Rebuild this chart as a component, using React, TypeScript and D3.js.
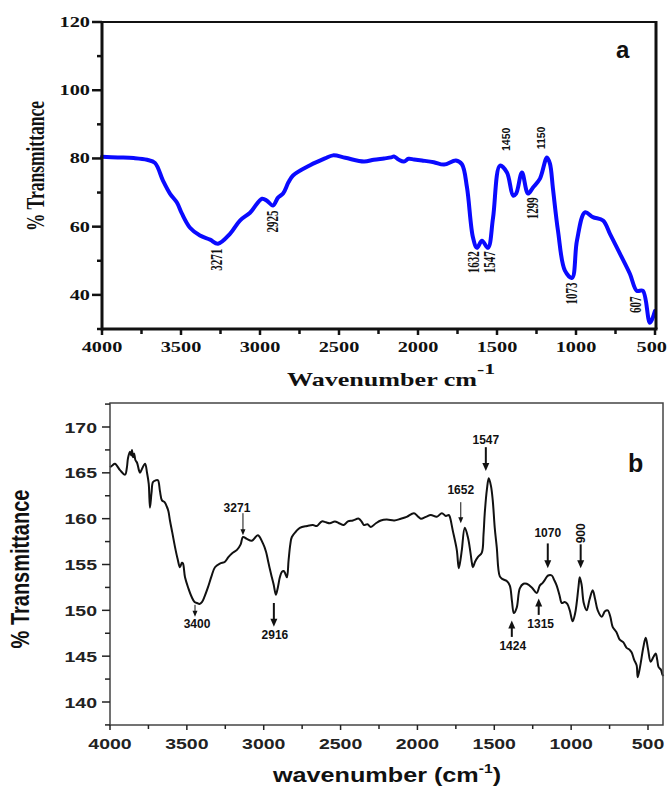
import React from 'react';
import * as d3 from 'd3';

// ---- panel a (blue spectrum) ----
const aWave = [4000, 3900, 3800, 3715, 3665, 3614, 3570, 3525, 3494, 3443, 3380, 3316, 3266, 3190, 3127, 3063, 2987, 2956, 2918, 2886, 2854, 2820, 2791, 2683, 2589, 2538, 2460, 2342, 2280, 2215, 2170, 2152, 2120, 2089, 2060, 2025, 1975, 1900, 1835, 1760, 1722, 1690, 1652, 1627, 1595, 1557, 1525, 1481, 1437, 1398, 1379, 1342, 1304, 1272, 1228, 1184, 1165, 1146, 1114, 1070, 1025, 994, 943, 893, 829, 785, 722, 659, 615, 577, 532, 500];
const aTrans = [80.5, 80.3, 80.1, 79.6, 78.7, 73.5, 69.7, 67.0, 63.8, 59.7, 57.4, 56.2, 55.0, 57.9, 61.8, 64.1, 68.2, 67.6, 66.2, 68.5, 69.7, 73.0, 75.0, 78.0, 80.0, 80.9, 80.2, 79.1, 79.6, 80.0, 80.3, 80.6, 79.6, 79.1, 79.9, 79.7, 79.4, 78.9, 78.2, 79.4, 78.3, 71.5, 56.8, 53.8, 55.9, 53.8, 62.6, 77.9, 75.9, 69.1, 69.7, 75.9, 69.7, 71.5, 74.1, 80.3, 78.5, 71.2, 58.8, 47.1, 45.0, 55.9, 64.2, 62.8, 61.8, 57.9, 52.1, 46.2, 41.2, 41.2, 31.8, 35.3];
const aTicksX = [4000, 3500, 3000, 2500, 2000, 1500, 1000, 500];
const aMinorX = [3750, 3250, 2750, 2250, 1750, 1250, 750];
const aTicksY = [40, 60, 80, 100, 120];
const aMinorY = [30, 50, 70, 90, 110];
const aPeakLabel = ['3271', '2925', '1632', '1547', '1450', '1150', '1299', '1073', '607'];
const aPeakWave = [3272, 2918, 1646, 1544, 1443, 1222, 1272, 1025, 620];
const aPeakTrans = [50.3, 61.5, 49.6, 49.6, 85.6, 86.0, 65.4, 40.4, 37.1];
const aPeakSans = [false, false, false, false, true, true, false, false, false];

// ---- panel b (black spectrum) ----
const bWave = [4000, 3985, 3968, 3935, 3902, 3890, 3883, 3870, 3862, 3857, 3850, 3843, 3835, 3824, 3812, 3805, 3790, 3772, 3759, 3748, 3740, 3730, 3720, 3700, 3688, 3675, 3662, 3645, 3630, 3620, 3610, 3595, 3577, 3560, 3545, 3532, 3525, 3512, 3490, 3467, 3450, 3434, 3418, 3402, 3385, 3363, 3340, 3317, 3285, 3252, 3230, 3207, 3174, 3150, 3135, 3110, 3077, 3038, 3005, 2985, 2973, 2960, 2947, 2935, 2921, 2908, 2895, 2882, 2870, 2862, 2849, 2838, 2827, 2817, 2790, 2765, 2719, 2680, 2654, 2622, 2595, 2570, 2537, 2510, 2479, 2452, 2420, 2381, 2360, 2348, 2325, 2303, 2270, 2238, 2200, 2150, 2108, 2070, 2023, 2000, 1978, 1945, 1913, 1874, 1841, 1815, 1796, 1789, 1770, 1744, 1731, 1720, 1711, 1692, 1672, 1655, 1646, 1639, 1625, 1607, 1581, 1570, 1562, 1548, 1536, 1522, 1510, 1497, 1484, 1464, 1445, 1419, 1399, 1385, 1373, 1354, 1334, 1310, 1289, 1256, 1224, 1204, 1185, 1172, 1150, 1126, 1110, 1094, 1075, 1061, 1042, 1025, 1009, 990, 975, 964, 952, 944, 932, 918, 899, 880, 860, 845, 827, 801, 780, 762, 745, 730, 705, 684, 660, 639, 620, 606, 590, 574, 567, 550, 530, 515, 500, 483, 465, 450, 440, 431, 415, 405, 400];
const bTrans = [165.6, 165.8, 166.0, 165.3, 164.8, 165.6, 166.6, 167.3, 166.9, 167.5, 166.7, 167.1, 166.4, 166.1, 165.3, 165.0, 165.5, 166.0, 165.0, 163.8, 161.2, 162.8, 164.0, 164.2, 164.2, 163.0, 162.0, 161.8, 161.3, 160.8, 159.8, 158.5, 156.9, 155.6, 154.7, 155.2, 155.1, 153.6, 152.4, 151.4, 150.9, 150.8, 150.7, 150.9, 151.5, 152.5, 153.7, 154.7, 155.1, 155.3, 155.8, 156.2, 156.6, 157.2, 158.0, 157.8, 157.6, 158.2, 157.3, 156.4, 155.5, 154.5, 153.6, 152.8, 151.7, 152.5, 153.6, 154.2, 154.3, 154.1, 153.6, 155.5, 157.2, 158.0, 158.6, 159.0, 159.2, 159.3, 159.2, 159.7, 159.6, 159.5, 159.7, 159.5, 159.3, 159.7, 159.8, 160.0, 159.6, 159.3, 159.4, 159.1, 159.5, 159.8, 159.9, 159.8, 160.0, 160.2, 160.6, 160.3, 160.0, 160.2, 160.4, 160.2, 160.6, 160.3, 160.4, 160.2, 158.7, 156.6, 154.6, 155.5, 156.6, 159.0, 158.0, 156.3, 155.2, 154.7, 155.3, 155.8, 156.3, 158.3, 160.6, 163.2, 164.4, 163.6, 162.0, 159.0, 156.9, 153.7, 153.4, 153.2, 152.7, 151.0, 149.7, 150.3, 152.4, 152.9, 152.9, 152.5, 151.9, 152.7, 153.0, 153.3, 153.8, 153.8, 153.3, 152.7, 151.6, 150.8, 150.9, 150.7, 150.0, 148.8, 149.6, 150.8, 152.6, 153.6, 152.8, 150.8, 150.0, 151.2, 152.2, 151.3, 150.0, 149.3, 149.9, 150.0, 149.3, 148.2, 147.6, 146.8, 146.5, 145.9, 145.7, 145.4, 144.6, 144.0, 142.7, 144.0, 146.0, 147.0, 145.8, 144.4, 144.9, 145.3, 144.6, 143.8, 143.5, 142.9, 143.0];
const bTicksX = [4000, 3500, 3000, 2500, 2000, 1500, 1000, 500];
const bMinorX = [3750, 3250, 2750, 2250, 1750, 1250, 750];
const bTicksY = [140, 145, 150, 155, 160, 165, 170];
const bMinorY = [137.5, 142.5, 147.5, 152.5, 157.5, 162.5, 167.5, 172.5];
const bNote = ['3271', '3400', '2916', '1652', '1547', '1070', '900', '1424', '1315'];
const bNoteWave = [3135, 3447, 2934, 1718, 1555, 1152, 938, 1386, 1211];
const bNoteTextWave = [3174, 3434, 2927, 1718, 1555, 1152, 938, 1380, 1198];
const bNoteTextT = [160.7, 148.1, 146.9, 162.7, 168.1, 158.0, 158.4, 145.7, 148.1];
const bArrowFrom = [160.6, 150.6, 150.8, 161.8, 167.8, 157.3, 157.2, 147.1, 149.5];
const bArrowTo = [158.2, 149.3, 148.2, 159.5, 165.2, 154.6, 154.6, 148.9, 151.3];
const bArrowBold = [false, false, true, false, true, true, true, true, true];

const serif = '"Liberation Serif", "Times New Roman", serif';
const sans = '"Liberation Sans", Arial, sans-serif';

function PanelA() {
  const left = 102, right = 656, top = 22, bottom = 329;
  const x = d3.scaleLinear().domain([4000, 500]).range([left, 655]);
  const y = d3.scaleLinear().domain([30, 120]).range([bottom, top]);
  const pts: [number, number][] = aWave.map((w, i) => [w, aTrans[i]]);
  const line = d3.line<[number, number]>()
    .x(d => x(d[0]))
    .y(d => y(d[1]))
    .curve(d3.curveCatmullRom.alpha(0.5));
  const sx = 1.45;

  return (
    <g>
      <path d={line(pts) || ''} fill="none" stroke="#0a0aff" strokeWidth={4} strokeLinejoin="round" strokeLinecap="round" />
      {/* frame */}
      <line x1={left} x2={right} y1={top} y2={top} stroke="#111" strokeWidth={2} />
      <line x1={left} x2={left} y1={top - 1} y2={bottom + 1.5} stroke="#111" strokeWidth={3} />
      <line x1={left} x2={right + 1.5} y1={bottom} y2={bottom} stroke="#111" strokeWidth={3} />
      <line x1={right} x2={right} y1={top - 1} y2={bottom} stroke="#111" strokeWidth={3} />
      {aTicksY.map(t => (
        <g key={'ay' + t}>
          <line x1={left - 10} x2={left} y1={y(t)} y2={y(t)} stroke="#111" strokeWidth={2.5} />
          <text transform={`translate(${left - 12},${y(t) + 5}) scale(${sx},1)`} textAnchor="end"
            fontFamily={serif} fontWeight="bold" fontSize={14} fill="#111">{t}</text>
        </g>
      ))}
      {aMinorY.map(t => (
        <line key={'amy' + t} x1={left - 5} x2={left} y1={y(t)} y2={y(t)} stroke="#111" strokeWidth={2.5} />
      ))}
      {aTicksX.map((t, i) => {
        const last = i === aTicksX.length - 1;
        return (
          <g key={'ax' + t}>
            <line x1={x(t)} x2={x(t)} y1={bottom} y2={bottom + 6} stroke="#111" strokeWidth={2.5} />
            <text transform={`translate(${last ? 667 : x(t)},${bottom + 23}) scale(${sx},1)`} textAnchor={last ? 'end' : 'middle'}
              fontFamily={serif} fontWeight="bold" fontSize={14} fill="#111">{t}</text>
          </g>
        );
      })}
      {aMinorX.map(t => (
        <line key={'amx' + t} x1={x(t)} x2={x(t)} y1={bottom} y2={bottom + 5} stroke="#111" strokeWidth={2.5} />
      ))}
      {aPeakLabel.map((lab, i) => (
        <text key={'ap' + i}
          transform={`translate(${x(aPeakWave[i])},${y(aPeakTrans[i])}) scale(${aPeakSans[i] ? 1 : sx},1) rotate(-90)`}
          textAnchor="middle" dominantBaseline="central"
          fontFamily={aPeakSans[i] ? sans : serif} fontWeight="bold" fontSize={aPeakSans[i] ? 10.5 : 11} fill="#111">{lab}</text>
      ))}
      <text x={616} y={58} fontFamily={sans} fontWeight="bold" fontSize={24} fill="#111">a</text>
      <text transform={`translate(44,166) scale(${sx},1) rotate(-90)`} textAnchor="middle"
        fontFamily={serif} fontWeight="bold" fontSize={17.5} fill="#111">% Transmittance</text>
      <text transform={`translate(287,386) scale(${sx},1)`} fontFamily={serif} fontWeight="bold" fontSize={18} fill="#111">
        Wavenumber cm
        <tspan dy={-12} fontSize={15}>-1</tspan>
      </text>
    </g>
  );
}

function PanelB() {
  const left = 110, right = 663, top = 403, bottom = 725;
  const x = d3.scaleLinear().domain([4000, 500]).range([left, 648]);
  const y = d3.scaleLinear().domain([140, 170]).range([702, 427]);
  const pts: [number, number][] = bWave.map((w, i) => [w, bTrans[i]]);
  const line = d3.line<[number, number]>()
    .x(d => x(d[0]))
    .y(d => y(d[1]))
    .curve(d3.curveCatmullRom.alpha(0.5));
  const sx = 1.3;
  const col = '#222';

  return (
    <g>
      <path d={line(pts) || ''} fill="none" stroke="#111" strokeWidth={2} strokeLinejoin="round" />
      <rect x={left} y={top} width={right - left} height={bottom - top} fill="none" stroke="#444" strokeWidth={1.5} />
      {bTicksY.map(t => (
        <g key={'by' + t}>
          <line x1={left - 8} x2={left} y1={y(t)} y2={y(t)} stroke={col} strokeWidth={1.5} />
          <text transform={`translate(${left - 13},${y(t) + 5.5}) scale(${sx},1)`} textAnchor="end"
            fontFamily={sans} fontWeight="bold" fontSize={15} fill={col}>{t}</text>
        </g>
      ))}
      {bMinorY.filter(t => y(t) > top && y(t) < bottom).map(t => (
        <line key={'bmy' + t} x1={left - 5} x2={left} y1={y(t)} y2={y(t)} stroke={col} strokeWidth={1.5} />
      ))}
      {bTicksX.map(t => (
        <g key={'bx' + t}>
          <line x1={x(t)} x2={x(t)} y1={bottom} y2={bottom + 5} stroke={col} strokeWidth={1.5} />
          <text transform={`translate(${x(t)},${bottom + 24}) scale(${sx},1)`} textAnchor="middle"
            fontFamily={sans} fontWeight="bold" fontSize={15} fill={col}>{t}</text>
        </g>
      ))}
      {bMinorX.map(t => (
        <line key={'bmx' + t} x1={x(t)} x2={x(t)} y1={bottom} y2={bottom + 4} stroke={col} strokeWidth={1.5} />
      ))}
      {bNote.map((lab, i) => {
        const ax = x(bNoteWave[i]);
        const y0 = y(bArrowFrom[i]);
        const y1 = y(bArrowTo[i]);
        const dir = y1 > y0 ? 1 : -1;
        const bold = bArrowBold[i];
        const hw = bold ? 3.5 : 2.5;
        const hl = bold ? 8 : 6;
        const rotated = lab === '900';
        return (
          <g key={'bn' + i}>
            <line x1={ax} x2={ax} y1={y0} y2={y1 - dir * hl * 0.6} stroke="#111" strokeWidth={bold ? 2 : 1} />
            <polygon points={`${ax - hw},${y1 - dir * hl} ${ax + hw},${y1 - dir * hl} ${ax},${y1}`} fill="#111" />
            {rotated ? (
              <text transform={`translate(${x(bNoteTextWave[i])},${y(bNoteTextT[i])}) rotate(-90)`}
                textAnchor="middle" dominantBaseline="central"
                fontFamily={sans} fontWeight="bold" fontSize={12} fill="#111">{lab}</text>
            ) : (
              <text x={x(bNoteTextWave[i])} y={y(bNoteTextT[i])} textAnchor="middle"
                fontFamily={sans} fontWeight="bold" fontSize={12} fill="#111">{lab}</text>
            )}
          </g>
        );
      })}
      <text x={628} y={472} fontFamily={sans} fontWeight="bold" fontSize={25} fill="#111">b</text>
      <text transform={`translate(29,569) scale(${sx},1) rotate(-90)`} textAnchor="middle"
        fontFamily={sans} fontWeight="bold" fontSize={20} fill="#111">% Transmittance</text>
      <text transform={`translate(387,782) scale(1.2,1)`} textAnchor="middle" fontFamily={sans} fontWeight="bold" fontSize={21} fill="#111">
        wavenumber (cm<tspan dy={-9} fontSize={13}>-1</tspan><tspan dy={9}>)</tspan>
      </text>
    </g>
  );
}

export default function App() {
  return (
    <svg width={668} height={789} style={{ position: 'absolute', left: 0, top: 0, background: '#fff' }}>
      <rect width={668} height={789} fill="#fff" />
      <PanelA />
      <PanelB />
    </svg>
  );
}
